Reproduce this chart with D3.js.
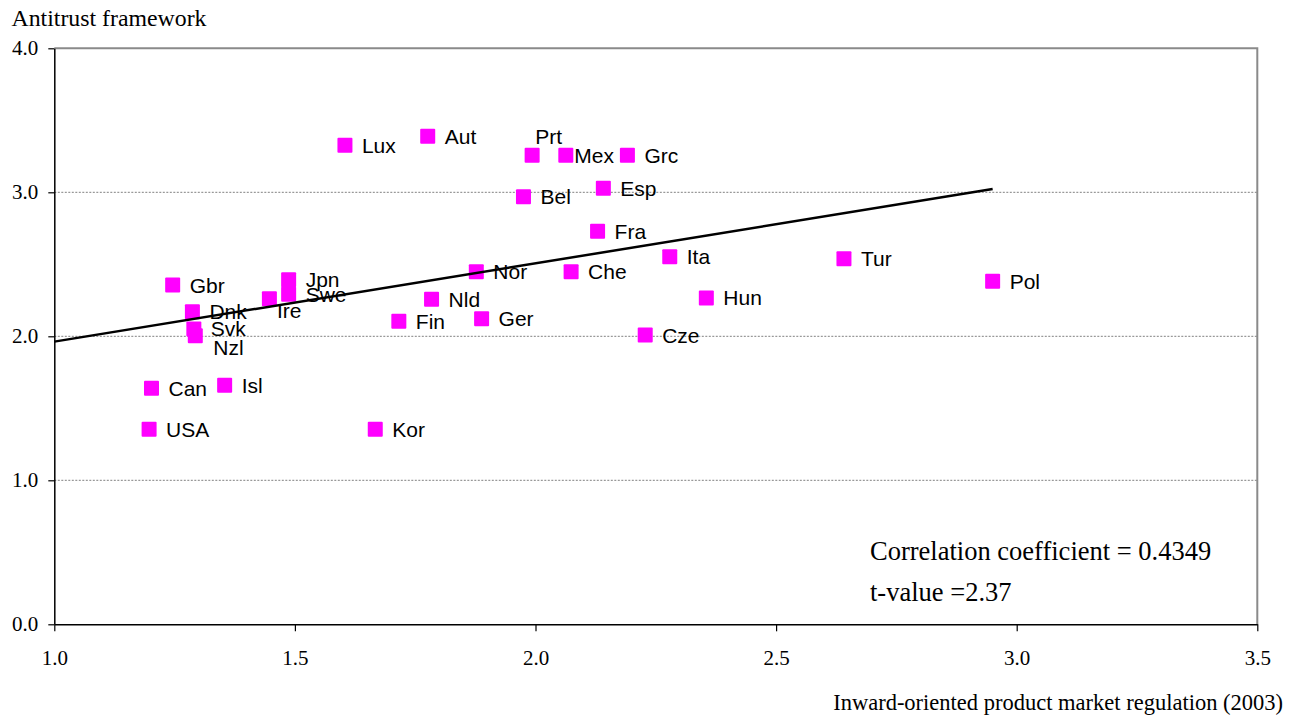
<!DOCTYPE html>
<html>
<head>
<meta charset="utf-8">
<script src="https://cdn.jsdelivr.net/npm/d3@7"></script>
<style>
  html, body { margin: 0; padding: 0; background: #fff; }
  svg { display: block; }
</style>
</head>
<body>
<svg id="chart" width="1301" height="720"></svg>
<script>
// ---- Data ----
const countries = ["Lux","Aut","Prt","Mex","Grc","Bel","Esp","Fra","Ita","Hun","Cze","Tur","Pol","Nor","Che","Nld","Fin","Ger","Can","Isl","USA","Kor","Gbr","Dnk","Svk","Nzl","Ire","Jpn","Swe"];
const inwardPMR = [1.604,1.776,1.993,2.063,2.191,1.975,2.141,2.129,2.279,2.355,2.228,2.641,2.950,1.877,2.074,1.784,1.716,1.888,1.202,1.354,1.197,1.667,1.246,1.287,1.290,1.293,1.447,1.487,1.487];
const antitrust = [3.326,3.390,3.258,3.258,3.258,2.969,3.028,2.730,2.553,2.266,2.009,2.538,2.383,2.448,2.448,2.258,2.105,2.122,1.639,1.660,1.355,1.355,2.356,2.171,2.051,2.004,2.260,2.393,2.292];
const trendX = [1.0, 2.95];
const trendY = [1.963, 3.023];
const xTicks = [1.0, 1.5, 2.0, 2.5, 3.0, 3.5];
const yTicks = [0.0, 1.0, 2.0, 3.0, 4.0];
const gridValues = [1.0, 2.0, 3.0];
const yTitle = "Antitrust framework";
const xTitle = "Inward-oriented product market regulation (2003)";
const statLines = ["Correlation coefficient = 0.4349", "t-value =2.37"];

// ---- Layout (label placement tweaks) ----
const labelDefault = {dx: 17, dy: 0};
const labelPlace = {
  Mex: {dx: 8.5, dy: 0},
  Prt: {dx: 3, dy: -18.4},
  Nzl: {dx: 18, dy: 11.8},
  Ire: {dx: 7.5, dy: 12}
};

const svg = d3.select("#chart");
const L = 54.3, R = 1257.3, T = 48.3, B = 624.3;
const x = d3.scaleLinear().domain([1.0, 3.5]).range([L, R]);
const y = d3.scaleLinear().domain([0, 4]).range([B, T]);
const serif = "'Liberation Serif', 'Times New Roman', serif";
const sans = "'Liberation Sans', Arial, sans-serif";

// grid lines
svg.append("g").selectAll("line").data(gridValues).join("line")
  .attr("x1", L).attr("x2", R)
  .attr("y1", d => y(d)).attr("y2", d => y(d))
  .attr("stroke", "#808080").attr("stroke-width", 1)
  .attr("stroke-dasharray", "2,1.5");

// top & right border
svg.append("path")
  .attr("d", `M${L},${T}H${R}V${B}`)
  .attr("fill", "none").attr("stroke", "#8a8a8a").attr("stroke-width", 2);

// axes
const xAxis = d3.axisBottom(x).tickValues(xTicks).tickFormat(d3.format(".1f")).tickSize(7).tickSizeOuter(0);
const gx = svg.append("g").attr("transform", `translate(0,${B})`).call(xAxis);
gx.select(".domain").attr("stroke", "#000").attr("stroke-width", 1.5);
gx.selectAll(".tick line").attr("stroke", "#000").attr("stroke-width", 1.2);
gx.selectAll(".tick text").attr("font-family", serif).attr("font-size", 21)
  .attr("fill", "#000").attr("y", 0).attr("dy", 0)
  .attr("transform", "translate(0,40.5)");

const yAxis = d3.axisLeft(y).tickValues(yTicks).tickFormat(d3.format(".1f")).tickSize(6).tickSizeOuter(0);
const gy = svg.append("g").attr("transform", `translate(${L},0)`).call(yAxis);
gy.select(".domain").attr("stroke", "#000").attr("stroke-width", 1.5);
gy.selectAll(".tick line").attr("stroke", "#000").attr("stroke-width", 1.2);
gy.selectAll(".tick text").attr("font-family", serif).attr("font-size", 21)
  .attr("fill", "#000").attr("x", -16).attr("dy", 0)
  .attr("transform", "translate(0,6.5)");

// markers
const pts = countries.map((c, i) => ({c, xv: inwardPMR[i], yv: antitrust[i]}));
const ms = 15;
svg.append("g").selectAll("rect").data(pts).join("rect")
  .attr("x", d => x(d.xv) - ms / 2).attr("y", d => y(d.yv) - ms / 2)
  .attr("width", ms).attr("height", ms).attr("rx", 1)
  .attr("fill", "#ff00ff");

// labels
svg.append("g").selectAll("text").data(pts).join("text")
  .attr("x", d => x(d.xv) + (labelPlace[d.c] || labelDefault).dx)
  .attr("y", d => y(d.yv) + (labelPlace[d.c] || labelDefault).dy + 7.5)
  .attr("font-family", sans).attr("font-size", 21).attr("fill", "#000")
  .text(d => d.c);

// trend line
const line = d3.line().x(d => x(d[0])).y(d => y(d[1]));
svg.append("path")
  .datum(trendX.map((v, i) => [v, trendY[i]]))
  .attr("d", line).attr("fill", "none")
  .attr("stroke", "#000").attr("stroke-width", 2.5);

// titles
svg.append("text").attr("x", 11.5).attr("y", 26)
  .attr("font-family", serif).attr("font-size", 23.8).attr("fill", "#000")
  .text(yTitle);
svg.append("text").attr("x", 1283).attr("y", 710).attr("text-anchor", "end")
  .attr("font-family", serif).attr("font-size", 22.5).attr("fill", "#000")
  .text(xTitle);

// stats annotation
svg.append("g").selectAll("text").data(statLines).join("text")
  .attr("x", 870).attr("y", (d, i) => 560 + i * 41)
  .attr("font-family", serif).attr("font-size", 26.5).attr("fill", "#000")
  .text(d => d);
</script>
</body>
</html>
